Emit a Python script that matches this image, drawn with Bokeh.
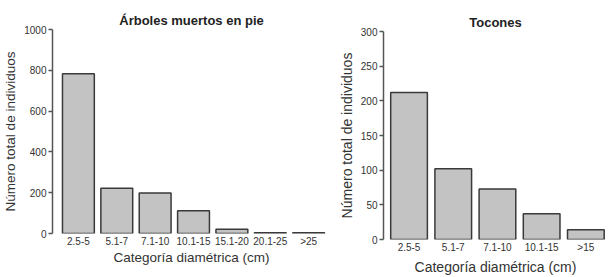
from bokeh.plotting import figure
from bokeh.layouts import row, column
from bokeh.models import FixedTicker, ColumnDataSource
from bokeh.embed import file_html
from bokeh.resources import INLINE

cats1 = ["2.5-5", "5.1-7", "7.1-10", "10.1-15", "15.1-20", "20.1-25", ">25"]
vals1 = [783, 222, 198, 111, 21, 4, 4]
yticks1 = [0, 200, 400, 600, 800, 1000]

cats2 = ["2.5-5", "5.1-7", "7.1-10", "10.1-15", ">15"]
vals2 = [212, 102, 73, 37, 14]
yticks2 = [0, 50, 100, 150, 200, 250, 300]

title1 = "Árboles muertos en pie"
title2 = "Tocones"
xlab = "Categoría diamétrica (cm)"
ylab = "Número total de individuos"

FONT = "Liberation Sans"
BAR_FILL = "#c3c3c3"
BAR_LINE = "#3a3a3a"
AX = "#555555"
TXT = "#333333"


def make(cats, vals, yticks, title, width, x_range, y_max, top, bottom, left, right,
         xl_standoff, xlab_standoff, title_standoff, lab_size):
    xs = list(range(len(cats)))
    p = figure(width=width, height=277, output_backend="svg", toolbar_location=None,
               x_range=x_range, y_range=(0, y_max), title=title,
               min_border_top=top, min_border_bottom=bottom,
               min_border_left=left, min_border_right=right)
    src = ColumnDataSource(dict(x=xs, top=vals))
    p.vbar(x="x", top="top", width=0.83, bottom=0, source=src,
           fill_color=BAR_FILL, line_color=BAR_LINE, line_width=1.5)
    p.outline_line_color = None
    p.grid.visible = False
    p.background_fill_color = "white"

    p.title.align = "center"
    p.title.text_font = FONT
    p.title.text_font_size = "13px"
    p.title.text_font_style = "bold"
    p.title.text_color = "#222222"
    p.title.text_line_height = 1.0
    p.title.offset = 0
    p.title.standoff = title_standoff

    xa = p.xaxis[0]
    xa.ticker = FixedTicker(ticks=xs)
    xa.major_label_overrides = {i: c for i, c in enumerate(cats)}
    xa.axis_line_color = None
    xa.major_tick_line_color = None
    xa.minor_tick_line_color = None
    xa.major_tick_out = 0
    xa.major_tick_in = 0
    xa.major_label_standoff = xl_standoff
    xa.major_label_text_font = FONT
    xa.major_label_text_font_size = "10px"
    xa.major_label_text_color = TXT
    xa.major_label_text_line_height = 1.0
    xa.axis_label = xlab
    xa.axis_label_standoff = xlab_standoff
    xa.axis_label_text_font = FONT
    xa.axis_label_text_font_size = lab_size
    xa.axis_label_text_font_style = "normal"
    xa.axis_label_text_color = TXT
    xa.axis_label_text_line_height = 1.0

    ya = p.yaxis[0]
    ya.ticker = FixedTicker(ticks=yticks)
    ya.axis_line_color = AX
    ya.axis_line_width = 1.5
    ya.major_tick_line_color = AX
    ya.major_tick_line_width = 1.5
    ya.major_tick_out = 4
    ya.major_tick_in = 0
    ya.minor_tick_line_color = None
    ya.major_label_standoff = 2
    ya.major_label_text_font = FONT
    ya.major_label_text_font_size = "10px"
    ya.major_label_text_color = TXT
    ya.axis_label = ylab
    ya.axis_label_standoff = 3
    ya.axis_label_text_font = FONT
    ya.axis_label_text_font_size = lab_size
    ya.axis_label_text_font_style = "normal"
    ya.axis_label_text_color = TXT
    return p


p1 = make(cats1, vals1, yticks1, title1, 335, (-0.675, 6.57), 1000, 29, 44, 51, 5,
          2, 0, 3, "13.5px")
p2 = make(cats2, vals2, yticks2, title2, 273, (-0.578, 4.49), 300, 31, 37, 45, 1,
          2, 3, 4, "14px")

layout = row(column(p1), column(p2))
open("out.html", "w").write(file_html(layout, INLINE))
